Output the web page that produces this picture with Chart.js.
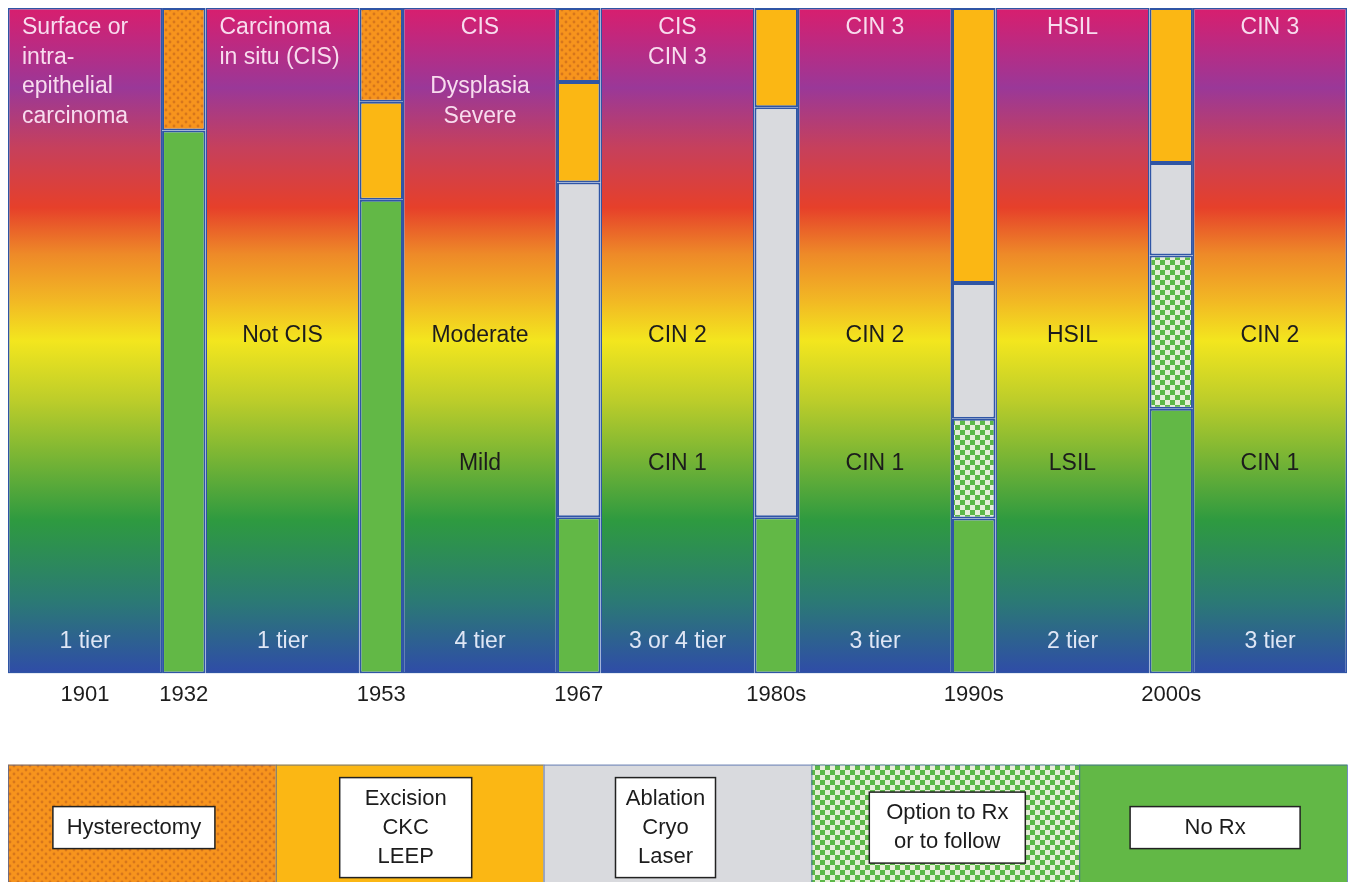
<!DOCTYPE html>
<html>
<head>
<meta charset="utf-8">
<script src="https://cdn.jsdelivr.net/npm/chart.js@4.4.1/dist/chart.umd.min.js"></script>
<style>
body{margin:0;background:#fff;}
#wrap{width:1351px;height:882px;position:relative;}
</style>
</head>
<body>
<div id="wrap"><canvas id="chart"></canvas></div>
<script>
// DATA
const years = ["1901", "1932", "1953", "1967", "1980s", "1990s", "2000s"];

// share of the bar (%) for each treatment, bottom to top
const noRx         = [81.6, 71.2, 23.5, 23.5, 23.3, 39.8];
const optionRx     = [null, null, null, null, 15.0, 23.0];
const ablation     = [null, null, 50.3, 61.6, 20.4, 13.9];
const excision     = [null, 14.7, 15.1, 14.9, 41.3, 23.3];
const hysterectomy = [18.4, 14.1, 11.1, null, null, null];

// terminology written in the panels between the bars
const topLabels = [
  ["Surface or", "intra-", "epithelial", "carcinoma"],
  ["Carcinoma", "in situ (CIS)"],
  ["CIS", "", "Dysplasia", "Severe"],
  ["CIS", "CIN 3"],
  ["CIN 3"],
  ["HSIL"],
  ["CIN 3"]
];
const midLabels  = ["", "Not CIS", "Moderate", "CIN 2", "CIN 2", "HSIL", "CIN 2"];
const lowLabels  = ["", "", "Mild", "CIN 1", "CIN 1", "LSIL", "CIN 1"];
const tierLabels = ["1 tier", "1 tier", "4 tier", "3 or 4 tier", "3 tier", "2 tier", "3 tier"];

const legendLabels = [
  ["Hysterectomy"],
  ["Excision", "CKC", "LEEP"],
  ["Ablation", "Cryo", "Laser"],
  ["Option to Rx", "or to follow"],
  ["No Rx"]
];

// LAYOUT / STYLE
const PANEL_W = 0.78;
const BAR_W = 0.22;
const STEP = 0.5;
const FONT = '"Liberation Sans", Arial, Helvetica, sans-serif';
const EDGE = "#2f55a5";
const legendBoxW = [162, 132, 100, 156, 170];
const legendShift = [-8, -4, -12, 2, 2];

const panelX = topLabels.map((_, i) => i);
const barX = noRx.map((_, i) => i + 0.5);
const tickX = [0].concat(barX);

// PATTERNS
function dotPattern() {
  const c = document.createElement("canvas");
  c.width = 8; c.height = 8;
  const g = c.getContext("2d");
  g.fillStyle = "#f7941d";
  g.fillRect(0, 0, 8, 8);
  g.fillStyle = "#d6761c";
  g.beginPath(); g.arc(2, 2, 1.4, 0, Math.PI * 2); g.fill();
  g.beginPath(); g.arc(6, 6, 1.4, 0, Math.PI * 2); g.fill();
  return g.createPattern(c, "repeat");
}

function checkPattern() {
  const c = document.createElement("canvas");
  c.width = 10; c.height = 10;
  const g = c.getContext("2d");
  g.fillStyle = "#e6efd8";
  g.fillRect(0, 0, 10, 10);
  g.fillStyle = "#5cb848";
  g.fillRect(0, 0, 5, 5);
  g.fillRect(5, 5, 5, 5);
  return g.createPattern(c, "repeat");
}

const fills = {
  noRx: "#62b846",
  option: checkPattern(),
  ablation: "#d9dade",
  excision: "#fbb714",
  hyst: dotPattern()
};

let grad = null;
function panelGradient(ctx) {
  const a = ctx.chart.chartArea;
  if (!a) return "#c04070";
  if (grad && grad.top === a.top && grad.bottom === a.bottom) return grad.g;
  const g = ctx.chart.ctx.createLinearGradient(0, a.top, 0, a.bottom);
  g.addColorStop(0.00, "#d81e6e");
  g.addColorStop(0.12, "#9a3898");
  g.addColorStop(0.21, "#c6405c");
  g.addColorStop(0.30, "#e6402a");
  g.addColorStop(0.37, "#ee8a28");
  g.addColorStop(0.44, "#f2b824");
  g.addColorStop(0.50, "#f3e61e");
  g.addColorStop(0.59, "#bccd2a");
  g.addColorStop(0.77, "#2e9a40");
  g.addColorStop(0.89, "#2b7a74");
  g.addColorStop(1.00, "#2f4ca8");
  grad = { top: a.top, bottom: a.bottom, g: g };
  return g;
}

function pts(arr, xs) {
  return arr.map((v, i) => ({ x: xs[i], y: v }));
}

function barSet(label, arr, fill) {
  return {
    label: label,
    data: pts(arr, barX),
    backgroundColor: fill,
    borderColor: EDGE,
    borderWidth: 2,
    borderSkipped: false,
    barPercentage: BAR_W / STEP,
    categoryPercentage: 1,
    grouped: false,
    order: 0
  };
}

// TEXT IN PANELS
const panelText = {
  id: "panelText",
  afterDatasetsDraw(chart) {
    const ctx = chart.ctx;
    const xs = chart.scales.x, ys = chart.scales.y;
    ctx.save();
    ctx.font = "23px " + FONT;
    ctx.textBaseline = "middle";
    panelX.forEach((px, i) => {
      const cx = xs.getPixelForValue(px);
      const left = xs.getPixelForValue(px - PANEL_W / 2) + 14;
      const top = ys.getPixelForValue(97);
      const alignLeft = i < 2;
      ctx.textAlign = alignLeft ? "left" : "center";
      ctx.fillStyle = "#f8dcee";
      topLabels[i].forEach((t, k) => {
        ctx.fillText(t, alignLeft ? left : cx, top + k * 29.5);
      });
      ctx.textAlign = "center";
      ctx.fillStyle = "#1c1c1c";
      if (midLabels[i]) ctx.fillText(midLabels[i], cx, ys.getPixelForValue(50.8));
      if (lowLabels[i]) ctx.fillText(lowLabels[i], cx, ys.getPixelForValue(31.5));
      ctx.fillStyle = "#dfe6f5";
      ctx.fillText(tierLabels[i], cx, ys.getPixelForValue(4.8));
    });
    ctx.restore();
  }
};

// LEGEND STRIP
const legendStrip = {
  id: "legendStrip",
  afterDraw(chart) {
    const ctx = chart.ctx;
    const a = chart.chartArea;
    const fillOrder = [fills.hyst, fills.excision, fills.ablation, fills.option, fills.noRx];
    const n = legendLabels.length;
    const w = (a.right - a.left) / n;
    const top = a.bottom + 91;
    const h = chart.height - top + 10;
    ctx.save();
    ctx.font = "22px " + FONT;
    ctx.textAlign = "center";
    ctx.textBaseline = "middle";
    legendLabels.forEach((lines, i) => {
      const x0 = a.left + i * w;
      ctx.fillStyle = fillOrder[i];
      ctx.fillRect(x0, top, w, h);
      ctx.strokeStyle = "rgba(59,92,168,0.7)";
      ctx.lineWidth = 1;
      ctx.strokeRect(x0 + 0.5, top + 0.5, w, h);
      const cx = x0 + w / 2 + legendShift[i];
      const cy = top + 63;
      const lh = 29;
      const bh = lines.length * lh + 13;
      const bw = legendBoxW[i];
      ctx.fillStyle = "#ffffff";
      ctx.fillRect(cx - bw / 2, cy - bh / 2, bw, bh);
      ctx.strokeStyle = "#222";
      ctx.lineWidth = 1.5;
      ctx.strokeRect(cx - bw / 2, cy - bh / 2, bw, bh);
      ctx.fillStyle = "#1c1c1c";
      lines.forEach((t, k) => {
        ctx.fillText(t, cx, cy + (k - (lines.length - 1) / 2) * lh);
      });
    });
    ctx.restore();
  }
};

new Chart(document.getElementById("chart"), {
  type: "bar",
  data: {
    datasets: [
      barSet("No Rx", noRx, fills.noRx),
      barSet("Option to Rx or to follow", optionRx, fills.option),
      barSet("Ablation", ablation, fills.ablation),
      barSet("Excision", excision, fills.excision),
      barSet("Hysterectomy", hysterectomy, fills.hyst),
      {
        label: "panels",
        data: panelX.map(x => ({ x: x, y: 100 })),
        stack: "bg",
        backgroundColor: panelGradient,
        borderColor: EDGE,
        borderWidth: 1.5,
        borderSkipped: false,
        barPercentage: PANEL_W / STEP,
        categoryPercentage: 1,
        grouped: false,
        order: 1
      }
    ]
  },
  options: {
    responsive: true,
    maintainAspectRatio: false,
    animation: false,
    layout: { padding: { left: 8, right: 4, top: 8, bottom: 166 } },
    plugins: { legend: { display: false }, tooltip: { enabled: false } },
    scales: {
      x: {
        type: "linear",
        offset: false,
        min: -PANEL_W / 2,
        max: panelX.length - 1 + PANEL_W / 2,
        grid: { display: false, drawTicks: false },
        border: { display: false },
        afterBuildTicks: s => { s.ticks = tickX.map(v => ({ value: v })); },
        ticks: {
          autoSkip: false,
          maxRotation: 0,
          padding: 8,
          color: "#1c1c1c",
          font: { size: 22, family: FONT },
          callback: (v, i) => years[i]
        }
      },
      y: {
        display: false,
        stacked: true,
        min: 0,
        max: 100
      }
    }
  },
  plugins: [panelText, legendStrip]
});
</script>
</body>
</html>
